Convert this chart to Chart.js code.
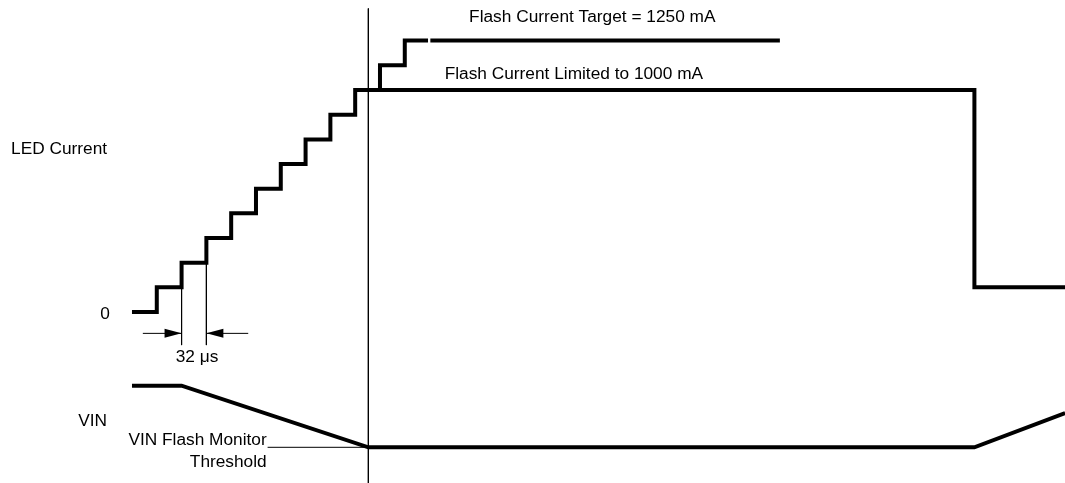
<!DOCTYPE html>
<html>
<head>
<meta charset="utf-8">
<script src="https://cdn.jsdelivr.net/npm/chart.js@4/dist/chart.umd.min.js"></script>
<style>
  html, body { margin: 0; padding: 0; background: #fff; }
  #wrap { width: 1065px; height: 483px; }
</style>
</head>
<body>
<div id="wrap"><canvas id="timing" width="1065" height="483"></canvas></div>
<script>
// time in us, LED current in mA, VIN in V (schematic)
var ledTimes = [0, 32, 64, 96, 128, 160, 192, 224, 256, 288, 1087, 1204];
var ledLevels = [0, 114, 227, 341, 455, 568, 682, 795, 909, 1023, 114, 114];

var targetTimes = [320, 320, 352, 382, 383.5, 385, 836];
var targetLevels = [1023, 1136, 1250, 1250, null, 1250, 1250];

var vinTimes = [0, 64, 305, 1087, 1204];
var vinLevels = [3.6, 3.6, 3.0, 3.0, 3.334];

var thresholdTimes = [175, 305];
var thresholdLevels = [3.0, 3.0];

var markerTime = 305;
var stepMarkTimes = [64, 96];
var stepMarkLevels = [227, 341];
var arrowLevel = -98;

var labels = [
    { text: 'Flash Current Target = 1250 mA', t: 435, v: 1334, axis: 'yI', align: 'left', base: 'alphabetic' },
    { text: 'Flash Current Limited to 1000 mA', t: 403.5, v: 1075, axis: 'yI', align: 'left', base: 'alphabetic' },
    { text: 'LED Current', t: -156, v: 730, axis: 'yI', align: 'left', base: 'alphabetic' },
    { text: '0', t: -28.4, v: -9, axis: 'yI', align: 'right', base: 'middle' },
    { text: '32 \u03bcs', t: 56.4, v: -230, axis: 'yI', align: 'left', base: 'alphabetic' },
    { text: 'VIN', t: -32.3, v: 3.249, axis: 'yV', align: 'right', base: 'middle' },
    { text: 'VIN Flash Monitor', t: 173.8, v: 3.022, axis: 'yV', align: 'right', base: 'alphabetic' },
    { text: 'Threshold', t: 173.8, v: 2.811, axis: 'yV', align: 'right', base: 'alphabetic' }
];

function pts(xs, ys) {
    return xs.map(function(x, i) { return { x: x, y: ys[i] }; });
}

function thinLine(data, axis) {
    return { data: data, yAxisID: axis, borderColor: '#000', borderWidth: 1, pointRadius: 0, fill: false };
}

// Draws text labels and arrowheads via the scales
var annotate = {
    id: 'annotate',
    afterDatasetsDraw: function(chart) {
        var ctx = chart.ctx;
        var x = chart.scales.x;
        ctx.save();
        ctx.fillStyle = '#000';
        ctx.font = '17.3px "Liberation Sans", Arial, sans-serif';
        labels.forEach(function(l) {
            ctx.textAlign = l.align;
            ctx.textBaseline = l.base;
            ctx.fillText(l.text, x.getPixelForValue(l.t), chart.scales[l.axis].getPixelForValue(l.v));
        });
        // arrowheads pointing at the 32 us markers
        var ay = chart.scales.yI.getPixelForValue(arrowLevel);
        [[stepMarkTimes[0], 1], [stepMarkTimes[1], -1]].forEach(function(a) {
            var tx = x.getPixelForValue(a[0]);
            ctx.beginPath();
            ctx.moveTo(tx, ay);
            ctx.lineTo(tx - a[1] * 17, ay - 4.5);
            ctx.lineTo(tx - a[1] * 17, ay + 4.5);
            ctx.closePath();
            ctx.fill();
        });
        ctx.restore();
    }
};

var chart = new Chart(document.getElementById('timing').getContext('2d'), {
    type: 'line',
    data: {
        datasets: [
            { data: pts(ledTimes, ledLevels), yAxisID: 'yI', stepped: 'before', borderColor: '#000', borderWidth: 4, borderJoinStyle: 'miter', pointRadius: 0, fill: false },
            { data: pts(targetTimes, targetLevels), yAxisID: 'yI', stepped: 'before', spanGaps: false, borderColor: '#000', borderWidth: 4, borderJoinStyle: 'miter', pointRadius: 0, fill: false },
            { data: pts(vinTimes, vinLevels), yAxisID: 'yV', borderColor: '#000', borderWidth: 4, borderJoinStyle: 'miter', pointRadius: 0, fill: false },
            thinLine(pts(thresholdTimes, thresholdLevels), 'yV'),
            thinLine(pts([markerTime, markerTime], [1398, -787]), 'yI'),
            thinLine(pts([stepMarkTimes[0], stepMarkTimes[0]], [stepMarkLevels[0], -152]), 'yI'),
            thinLine(pts([stepMarkTimes[1], stepMarkTimes[1]], [stepMarkLevels[1], -152]), 'yI'),
            thinLine(pts([14, stepMarkTimes[0]], [arrowLevel, arrowLevel]), 'yI'),
            thinLine(pts([stepMarkTimes[1], 150], [arrowLevel, arrowLevel]), 'yI')
        ]
    },
    options: {
        responsive: false,
        animation: false,
        devicePixelRatio: 1,
        layout: { padding: 0 },
        plugins: { legend: { display: false }, tooltip: { enabled: false } },
        scales: {
            x: { type: 'linear', display: false, min: -170.3, max: 1203.9, bounds: 'data' },
            yI: { type: 'linear', display: false, min: -787, max: 1437, bounds: 'data' },
            yV: { type: 'linear', display: false, min: 2.6524, max: 7.3556, bounds: 'data' }
        }
    },
    plugins: [annotate]
});
</script>
</body>
</html>
